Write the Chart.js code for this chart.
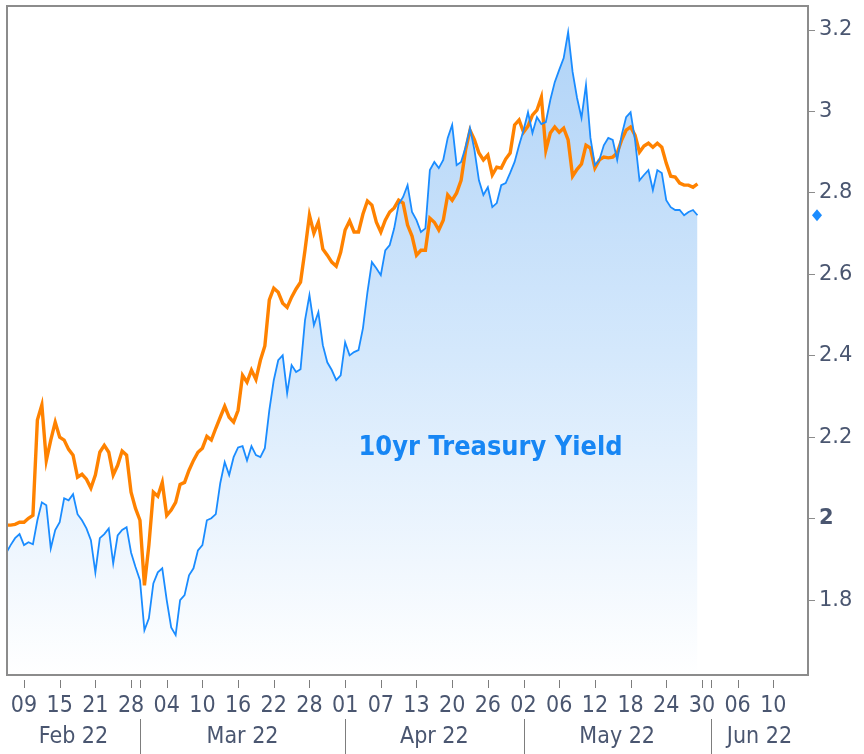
<!DOCTYPE html>
<html>
<head>
<meta charset="utf-8">
<script src="https://cdn.jsdelivr.net/npm/chart.js@4.4.1/dist/chart.umd.min.js"></script>
<style>
html,body{margin:0;padding:0;background:#fff;}
canvas{display:block;}
</style>
</head>
<body>
<canvas id="c" width="864" height="754"></canvas>
<script>
// 10yr Treasury yield (blue, filled) – sampled every half trading session
const blueYield = [
1.915,1.935,1.952,1.962,1.935,1.942,1.937,1.996,2.040,2.033,
1.927,1.972,1.991,2.050,2.045,2.060,2.011,1.996,1.976,1.947,
1.868,1.952,1.962,1.976,1.890,1.959,1.972,1.979,1.917,1.881,
1.849,1.726,1.755,1.841,1.868,1.878,1.800,1.733,1.714,1.800,
1.812,1.861,1.878,1.922,1.935,1.996,2.001,2.011,2.087,2.139,
2.107,2.151,2.175,2.178,2.143,2.178,2.156,2.151,2.173,2.266,
2.340,2.389,2.401,2.308,2.377,2.360,2.367,2.487,2.549,2.475,
2.507,2.426,2.384,2.365,2.340,2.352,2.433,2.401,2.409,2.414,
2.468,2.556,2.630,2.615,2.598,2.659,2.672,2.713,2.772,2.790,
2.819,2.753,2.733,2.704,2.713,2.856,2.876,2.861,2.881,2.935,
2.967,2.868,2.876,2.912,2.959,2.905,2.831,2.795,2.814,2.765,
2.775,2.819,2.824,2.849,2.876,2.917,2.954,2.998,2.947,2.986,
2.969,2.974,3.028,3.072,3.102,3.131,3.195,3.097,3.033,2.984,
3.065,2.935,2.868,2.881,2.917,2.935,2.930,2.881,2.942,2.986,
2.998,2.930,2.831,2.844,2.856,2.807,2.856,2.849,2.782,2.765,
2.758,2.758,2.745,2.753,2.758,2.745
];
// comparison series (orange)
const orangeYield = [
1.984,1.984,1.986,1.991,1.991,2.001,2.008,2.242,2.279,2.143,
2.193,2.237,2.200,2.193,2.170,2.156,2.102,2.109,2.097,2.075,
2.107,2.163,2.180,2.163,2.107,2.131,2.166,2.156,2.065,2.025,
1.996,1.836,1.935,2.065,2.055,2.089,2.008,2.021,2.040,2.084,
2.089,2.119,2.143,2.163,2.173,2.202,2.193,2.222,2.249,2.276,
2.249,2.237,2.266,2.352,2.335,2.365,2.342,2.389,2.424,2.537,
2.566,2.556,2.529,2.519,2.544,2.564,2.581,2.659,2.745,2.701,
2.728,2.662,2.647,2.630,2.620,2.654,2.709,2.731,2.704,2.704,
2.748,2.780,2.770,2.728,2.704,2.733,2.753,2.763,2.782,2.775,
2.721,2.694,2.647,2.659,2.659,2.738,2.728,2.709,2.733,2.795,
2.782,2.800,2.831,2.905,2.954,2.930,2.898,2.881,2.893,2.844,
2.863,2.861,2.883,2.898,2.967,2.979,2.949,2.964,2.991,3.003,
3.035,2.905,2.947,2.962,2.949,2.959,2.930,2.841,2.858,2.871,
2.917,2.910,2.861,2.881,2.888,2.886,2.888,2.898,2.930,2.954,
2.962,2.942,2.900,2.915,2.922,2.912,2.922,2.912,2.873,2.841,
2.839,2.824,2.819,2.819,2.814,2.822
];
// x positions in trading sessions (session 0 = Feb 09)
const sessions = blueYield.map((_, i) => -2 + i * 0.5);

const xTickSessions = [0,4,8,12,16,20,24,28,32,36,40,44,48,52,56,60,64,68,72,76,80,84];
const xTickLabels = ['09','15','21','28','04','10','16','22','28','01','07','13','20','26','02','06','12','18','24','30','06','10'];
const monthStarts = [13,36,56,77];
const monthLabels = ['Feb 22','Mar 22','Apr 22','May 22','Jun 22'];
const yTickValues = [1.8,2.0,2.2,2.4,2.6,2.8,3.0,3.2];
const yTickLabels = ['1.8','2','2.2','2.4','2.6','2.8','3','3.2'];
const xRange = [-1.906, 87.89];
const yRange = [1.616, 3.259];
const seriesTitle = '10yr Treasury Yield';

const BLUE = '#1a8cff';
const ORANGE = '#ff8200';
const TEXT = '#4a5670';
const AXISGREY = '#8c8c8c';
const XFONT = "'Liberation Sans Narrow','DejaVu Sans Condensed','Roboto',sans-serif";

const decor = {
  id: 'decor',
  afterDraw(chart) {
    const {ctx, chartArea: a, scales: {x, y}} = chart;
    ctx.save();
    // frame
    ctx.strokeStyle = AXISGREY;
    ctx.lineWidth = 2;
    ctx.strokeRect(a.left, a.top, a.right - a.left, a.bottom - a.top);
    // x tick marks
    ctx.strokeStyle = '#7d7d7d';
    ctx.lineWidth = 1;
    ctx.beginPath();
    xTickSessions.concat(monthStarts).forEach(v => {
      const px = Math.round(x.getPixelForValue(v)) + 0.5;
      ctx.moveTo(px, a.bottom + 5);
      ctx.lineTo(px, a.bottom + 13);
    });
    // month separators
    monthStarts.forEach(v => {
      const px = Math.round(x.getPixelForValue(v)) + 0.5;
      ctx.moveTo(px, a.bottom + 44);
      ctx.lineTo(px, chart.height);
    });
    ctx.stroke();
    // month labels
    const edges = [xRange[0]].concat(monthStarts, [xRange[1]]);
    ctx.fillStyle = TEXT;
    ctx.font = "23px " + XFONT;
    ctx.textAlign = 'center';
    ctx.textBaseline = 'middle';
    monthLabels.forEach((lab, i) => {
      const c = (edges[i] + edges[i + 1]) / 2;
      ctx.fillText(lab, x.getPixelForValue(c), a.bottom + 62);
    });
    // last value marker on axis
    const last = blueYield[blueYield.length - 1];
    const my = y.getPixelForValue(last);
    const mx = a.right + 9;
    ctx.fillStyle = BLUE;
    ctx.beginPath();
    ctx.moveTo(mx, my - 6);
    ctx.lineTo(mx + 5, my);
    ctx.lineTo(mx, my + 6);
    ctx.lineTo(mx - 5, my);
    ctx.closePath();
    ctx.fill();
    // series title (bold, narrow)
    ctx.fillStyle = '#1786f4';
    ctx.font = "bold 27px 'DejaVu Sans', sans-serif";
    ctx.textAlign = 'center';
    ctx.textBaseline = 'alphabetic';
    const w = ctx.measureText(seriesTitle).width;
    const sx = 264 / w;
    ctx.translate(x.getPixelForValue(52.3), 455);
    ctx.scale(sx, 1);
    ctx.fillText(seriesTitle, 0, 0);
    ctx.restore();
  }
};

new Chart(document.getElementById('c'), {
  type: 'line',
  data: {
    datasets: [
      {
        label: seriesTitle,
        data: sessions.map((s, i) => ({x: s, y: blueYield[i]})),
        borderColor: BLUE,
        borderWidth: 1.8,
        pointRadius: 0,
        tension: 0,
        fill: 'start',
        backgroundColor: (ctx) => {
          const ch = ctx.chart;
          const a = ch.chartArea;
          if (!a) return 'rgba(190,220,250,0.6)';
          const g = ch.ctx.createLinearGradient(0, a.top + 20, 0, a.bottom);
          g.addColorStop(0, 'rgba(176,211,247,1)');
          g.addColorStop(0.5, 'rgba(212,232,252,1)');
          g.addColorStop(1, 'rgba(255,255,255,1)');
          return g;
        }
      },
      {
        label: 'Comparison',
        data: sessions.map((s, i) => ({x: s, y: orangeYield[i]})),
        borderColor: ORANGE,
        borderWidth: 3.4,
        pointRadius: 0,
        tension: 0,
        fill: false
      }
    ]
  },
  options: {
    responsive: false,
    animation: false,
    events: [],
    layout: {padding: {left: 7, top: 6, right: 0, bottom: 0}},
    plugins: {
      legend: {display: false},
      tooltip: {enabled: false},
      filler: {drawTime: 'beforeDatasetsDraw'}
    },
    scales: {
      x: {
        type: 'linear',
        min: xRange[0],
        max: xRange[1],
        grid: {display: false},
        border: {display: false},
        afterBuildTicks: (s) => { s.ticks = xTickSessions.map(v => ({value: v})); },
        afterFit: (s) => { s.height = 79; s.paddingLeft = 0; s.paddingRight = 0; },
        ticks: {
          autoSkip: false,
          maxRotation: 0,
          padding: 9,
          color: TEXT,
          font: {family: XFONT, size: 23},
          callback: (v) => { const i = xTickSessions.indexOf(v); return i >= 0 ? xTickLabels[i] : ''; }
        }
      },
      y: {
        position: 'right',
        min: yRange[0],
        max: yRange[1],
        grid: {drawOnChartArea: false, drawTicks: true, tickLength: 7, color: AXISGREY},
        border: {display: false},
        afterBuildTicks: (s) => { s.ticks = yTickValues.map(v => ({value: v})); },
        afterFit: (s) => { s.width = 56; s.paddingTop = 0; s.paddingBottom = 0; },
        ticks: {
          padding: 4,
          color: TEXT,
          font: (c) => ({family: "'DejaVu Sans', sans-serif", size: 21, weight: (c.tick && c.tick.value === 2) ? 'bold' : 'normal'}),
          callback: (v) => { const i = yTickValues.findIndex(t => Math.abs(t - v) < 1e-9); return i >= 0 ? yTickLabels[i] : ''; }
        }
      }
    }
  },
  plugins: [decor]
});
</script>
</body>
</html>
